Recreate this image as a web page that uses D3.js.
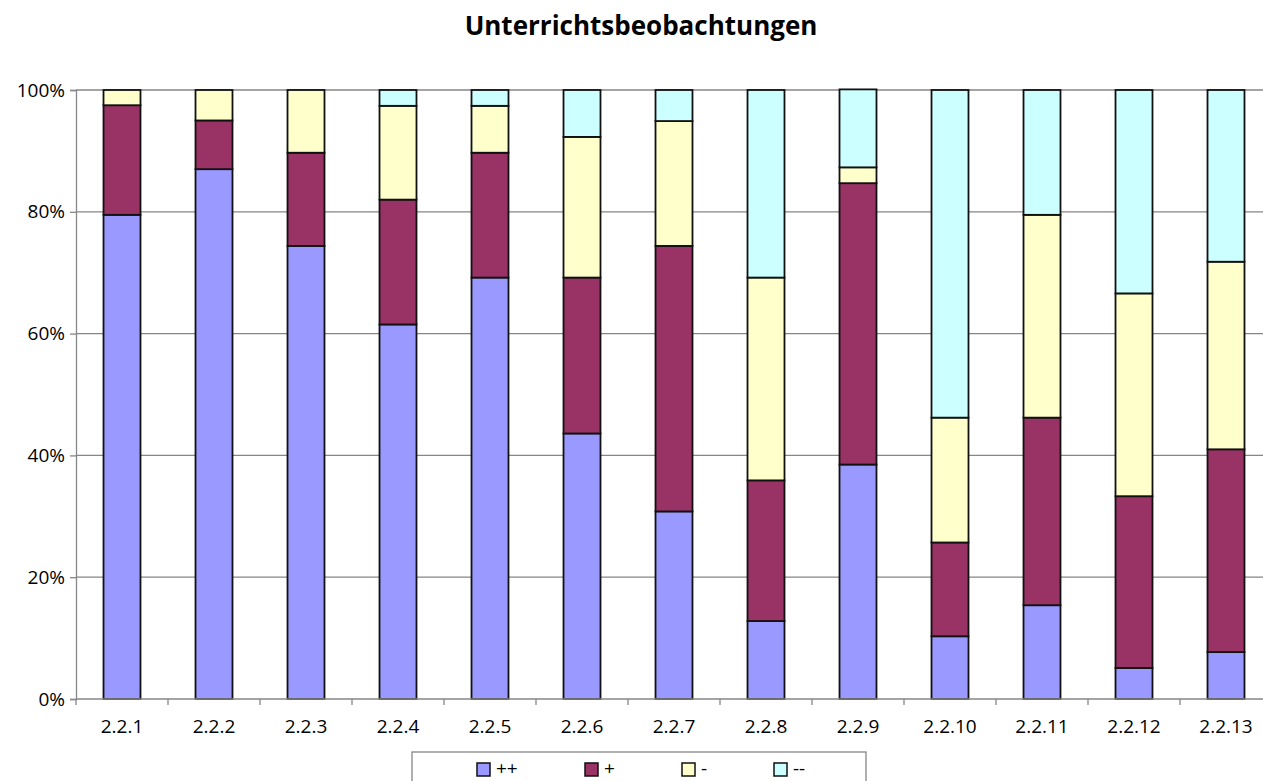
<!DOCTYPE html>
<html>
<head>
<meta charset="utf-8">
<script src="https://cdn.jsdelivr.net/npm/d3@7"></script>
<style>
  body { margin: 0; background: #fff; overflow: hidden; }
  text { font-family: "Open Sans", "Liberation Sans", sans-serif; }
</style>
</head>
<body>
<div id="chart"></div>
<script>
// categories and series (percent of observations)
const categories = ['2.2.1', '2.2.2', '2.2.3', '2.2.4', '2.2.5', '2.2.6', '2.2.7',
    '2.2.8', '2.2.9', '2.2.10', '2.2.11', '2.2.12', '2.2.13'];
const seriesNames = ['++', '+', '-', '--'];
const vPlusPlus = [79.5, 87.0, 74.4, 61.5, 69.2, 43.6, 30.8, 12.8, 38.5, 10.3, 15.4, 5.1, 7.7];
const vPlus = [18.0, 8.0, 15.3, 20.5, 20.5, 25.6, 43.6, 23.1, 46.2, 15.4, 30.8, 28.2, 33.3];
const vMinus = [2.5, 5.0, 10.3, 15.4, 7.7, 23.1, 20.5, 33.3, 2.6, 20.5, 33.3, 33.3, 30.8];
const vMinusMinus = [0, 0, 0, 2.6, 2.6, 7.7, 5.1, 30.8, 12.8, 53.8, 20.5, 33.4, 28.2];
const yTicks = [0, 20, 40, 60, 80, 100];
const colors = ['#9999FF', '#993366', '#FFFFCC', '#CCFFFF'];

const width = 1263, height = 781;
// plot area runs a little past the right edge of the picture
const margin = {top: 90, bottom: 82, left: 76};
const plotRight = 1272;

const svg = d3.select('#chart').append('svg')
    .attr('width', width)
    .attr('height', height);

// build rows for the stack
const rows = categories.map((c, i) => ({
    cat: c, '++': vPlusPlus[i], '+': vPlus[i], '-': vMinus[i], '--': vMinusMinus[i]
}));
const stacked = d3.stack().keys(seriesNames)(rows);

const x = d3.scaleBand()
    .domain(categories)
    .range([margin.left, plotRight])
    .paddingInner(0.598)
    .paddingOuter(0.299);

const y = d3.scaleLinear()
    .domain([0, 100])
    .range([height - margin.bottom, margin.top]);

// title
svg.append('text')
    .attr('x', 641)
    .attr('y', 35)
    .attr('text-anchor', 'middle')
    .style('font-size', '26px')
    .style('font-weight', 'bold')
    .text('Unterrichtsbeobachtungen');

// gridlines
svg.append('g')
    .selectAll('line')
    .data(yTicks.filter(d => d > 0))
    .join('line')
    .attr('x1', margin.left)
    .attr('x2', plotRight)
    .attr('y1', d => y(d))
    .attr('y2', d => y(d))
    .attr('stroke', '#868686')
    .attr('stroke-width', 1.3);

// y axis
const yAxis = svg.append('g')
    .attr('transform', 'translate(' + margin.left + ',0)')
    .call(d3.axisLeft(y).tickValues(yTicks).tickFormat(d => d + '%').tickSize(6).tickPadding(5));
yAxis.select('.domain').attr('stroke', '#868686').attr('stroke-width', 1.3);
yAxis.selectAll('.tick line').attr('stroke', '#868686').attr('stroke-width', 1.3);
yAxis.selectAll('text')
    .style('font-size', '19px')
    .attr('fill', '#000');

// bars
svg.append('g')
    .selectAll('g')
    .data(stacked)
    .join('g')
    .attr('fill', (d, i) => colors[i])
    .selectAll('rect')
    .data(d => d)
    .join('rect')
    .attr('x', d => x(d.data.cat))
    .attr('width', x.bandwidth())
    .attr('y', d => y(d[1]))
    .attr('height', d => y(d[0]) - y(d[1]))
    .attr('stroke', '#111')
    .attr('stroke-width', d => (d[1] - d[0]) > 0 ? 1.8 : 0);

// x axis
const step = x.step();
const xAxis = svg.append('g')
    .attr('transform', 'translate(0,' + y(0) + ')');
xAxis.append('line')
    .attr('x1', margin.left)
    .attr('x2', plotRight)
    .attr('stroke', '#868686')
    .attr('stroke-width', 1.3);
xAxis.selectAll('line.tick')
    .data(d3.range(categories.length + 1))
    .join('line')
    .attr('class', 'tick')
    .attr('x1', i => margin.left + i * step)
    .attr('x2', i => margin.left + i * step)
    .attr('y1', 0)
    .attr('y2', 6)
    .attr('stroke', '#868686')
    .attr('stroke-width', 1.3);
xAxis.selectAll('text')
    .data(categories)
    .join('text')
    .attr('x', d => x(d) + x.bandwidth() / 2)
    .attr('y', 34)
    .attr('text-anchor', 'middle')
    .style('font-size', '19px')
    .text(d => d);

// legend (box is cut by the bottom edge, as in the original)
const legend = svg.append('g').attr('transform', 'translate(412,752)');
legend.append('rect')
    .attr('width', 454)
    .attr('height', 40)
    .attr('fill', '#fff')
    .attr('stroke', '#868686')
    .attr('stroke-width', 1.3);
const legendX = [477, 585, 682, 774];
const items = legend.selectAll('g.item')
    .data(seriesNames)
    .join('g')
    .attr('class', 'item')
    .attr('transform', (d, i) => 'translate(' + (legendX[i] - 412) + ',11)');
items.append('rect')
    .attr('width', 13)
    .attr('height', 13)
    .attr('fill', (d, i) => colors[i])
    .attr('stroke', '#111')
    .attr('stroke-width', 1.5);
items.append('text')
    .attr('x', 19)
    .attr('y', 12)
    .style('font-size', '19px')
    .text(d => d);
</script>
</body>
</html>
